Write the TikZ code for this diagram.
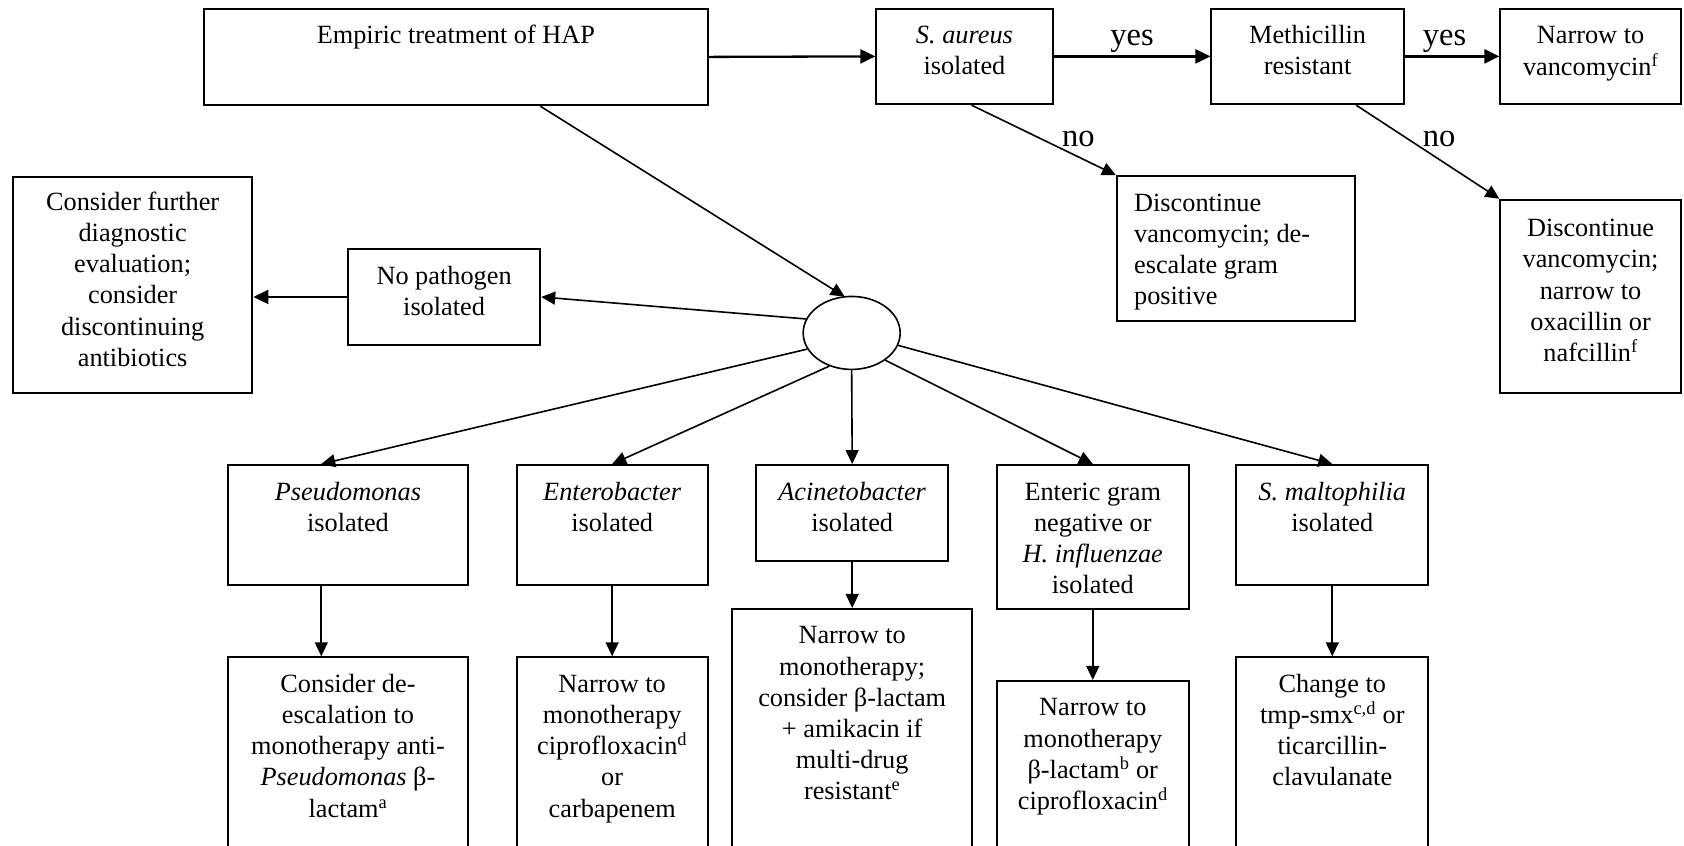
\documentclass[tikz,border=0pt]{standalone}
\usepackage{fontspec}
\setmainfont{Liberation Serif}
\usetikzlibrary{fit,calc,arrows.meta,shapes.geometric}
\begin{document}
\begin{tikzpicture}[x=1.074pt,y=-1.074pt,
  box/.style={draw, line width=2pt, inner sep=0pt},
  txt/.style={inner sep=0pt, align=center, anchor=north, font=\fontsize{26.3}{31.2}\selectfont},
  ltxt/.style={inner sep=0pt, align=left, anchor=north west, font=\fontsize{26.3}{31.2}\selectfont},
  lbl/.style={inner sep=0pt, font=\fontsize{32.5}{36}\selectfont},
  arr/.style={line width=1.6pt, -{Triangle[length=14pt,width=13pt]}},
  harr/.style={arr, line width=2.3pt, -{Triangle[length=15pt,width=14pt]}},
]
\clip (0,0) rectangle (1568,787);
% boxes
\node[box, fit={(190,8)(659,98)}] (emp) {};
\node[box, fit={(816,8)(980,97)}] (sa) {};
\node[box, fit={(1128,8)(1307,97)}] (mr) {};
\node[box, fit={(1397,8)(1565,97)}] (nv) {};
\node[box, fit={(1040,164)(1262,299)}] (dv) {};
\node[box, fit={(1397,186)(1565,366)}] (dn) {};
\node[box, fit={(324,232)(503,321)}] (np) {};
\node[box, fit={(12,165)(235,366)}] (cf) {};
\node[draw, line width=1.6pt, ellipse, minimum width=97pt, minimum height=73pt, inner sep=0pt] (ell) at (793,310) {};
\node[box, fit={(212,433)(436,545)}] (ps) {};
\node[box, fit={(481,433)(659,545)}] (en) {};
\node[box, fit={(704,433)(883,522)}] (ac) {};
\node[box, fit={(928,433)(1107,567)}] (eg) {};
\node[box, fit={(1151,433)(1330,545)}] (sm) {};
\node[box, fit={(212,612)(436,800)}] (psd) {};
\node[box, fit={(481,612)(659,800)}] (end) {};
\node[box, fit={(682,567)(905,800)}] (acd) {};
\node[box, fit={(928,634)(1107,800)}] (egd) {};
\node[box, fit={(1151,612)(1330,800)}] (smd) {};
% texts
\node[txt] (temp) at ([yshift=-14pt]emp.north) {\strut Empiric treatment of HAP};
\node[txt] (tsa) at ([yshift=-14pt]sa.north) {\strut\textit{S. aureus}\\isolated};
\node[txt] (tmr) at ([yshift=-14pt]mr.north) {\strut Methicillin\\resistant};
\node[txt] (tnv) at ([yshift=-14pt]nv.north) {\strut Narrow to\\vancomycin\textsuperscript{f}};
\node[ltxt] (tdv) at ([xshift=18pt,yshift=-14pt]dv.north west) {\strut Discontinue\\vancomycin; de-\\escalate gram\\positive};
\node[txt] (tdn) at ([yshift=-16pt]dn.north) {\strut Discontinue\\vancomycin;\\narrow to\\oxacillin or\\nafcillin\textsuperscript{f}};
\node[txt] (tnp) at ([yshift=-14pt]np.north) {\strut No pathogen\\isolated};
\node[txt] (tcf) at ([yshift=-12pt]cf.north) {\strut Consider further\\diagnostic\\evaluation;\\consider\\discontinuing\\antibiotics};
\node[txt] (tps) at ([yshift=-14pt]ps.north) {\strut\textit{Pseudomonas}\\isolated};
\node[txt] (ten) at ([yshift=-14pt]en.north) {\strut\textit{Enterobacter}\\isolated};
\node[txt] (tac) at ([yshift=-14pt]ac.north) {\strut\textit{Acinetobacter}\\isolated};
\node[txt] (teg) at ([yshift=-14pt]eg.north) {\strut Enteric gram\\negative or\\\textit{H. influenzae}\\isolated};
\node[txt] (tsm) at ([yshift=-14pt]sm.north) {\strut\textit{S. maltophilia}\\isolated};
\node[txt] (tpsd) at ([yshift=-14pt]psd.north) {\strut Consider de-\\escalation to\\monotherapy anti-\\\textit{Pseudomonas} β-\\lactam\textsuperscript{a}};
\node[txt] (tend) at ([yshift=-14pt]end.north) {\strut Narrow to\\monotherapy\\ciprofloxacin\textsuperscript{d}\\or\\carbapenem};
\node[txt] (tacd) at ([yshift=-14pt]acd.north) {\strut Narrow to\\monotherapy;\\consider β-lactam\\+ amikacin if\\multi-drug\\resistant\textsuperscript{e}};
\node[txt] (tegd) at ([yshift=-14pt]egd.north) {\strut Narrow to\\monotherapy\\β-lactam\textsuperscript{b} or\\ciprofloxacin\textsuperscript{d}};
\node[txt] (tsmd) at ([yshift=-14pt]smd.north) {\strut Change to\\tmp-smx\textsuperscript{c,d} or\\ticarcillin-\\clavulanate};
% connectors
\draw[harr] (emp.east) -- (sa.west);
\draw[harr] (sa.east) -- (mr.west);
\draw[harr] (mr.east) -- (nv.west);
\node[lbl] (y1) at (1054,38.5) {yes};
\node[lbl] (y2) at (1345,38.5) {yes};
\draw[arr] ($(sa.south west)!0.54!(sa.south east)$) -- (dv.north west);
\draw[arr] ($(mr.south west)!0.75!(mr.south east)$) -- (dn.north west);
\node[lbl] (n1) at (1004,129) {no};
\node[lbl] (n2) at (1340,129) {no};
\draw[arr] ($(emp.south west)!0.667!(emp.south east)$) -- ([xshift=-7pt,yshift=-1pt]ell.north);
\draw[arr] (ell.163) -- (np.east);
\draw[harr] (np.west) -- (np.west -| cf.east);
\draw[arr] (ell.200) -- ($(ps.north west)!0.39!(ps.north east)$);
\draw[arr] (ell.236) -- (en.north);
\draw[arr] (ell.south) -- (ac.north);
\draw[arr] (ell.321) -- (eg.north);
\draw[arr] (ell.345) -- (sm.north);
\coordinate (p1) at ($(ps.south west)!0.39!(ps.south east)$);
\draw[arr] (p1) -- (p1 |- psd.north);
\draw[arr] (en.south) -- (end.north);
\draw[arr] (ac.south) -- (acd.north);
\draw[arr] (eg.south) -- (egd.north);
\draw[arr] (sm.south) -- (smd.north);
\end{tikzpicture}
\end{document}
